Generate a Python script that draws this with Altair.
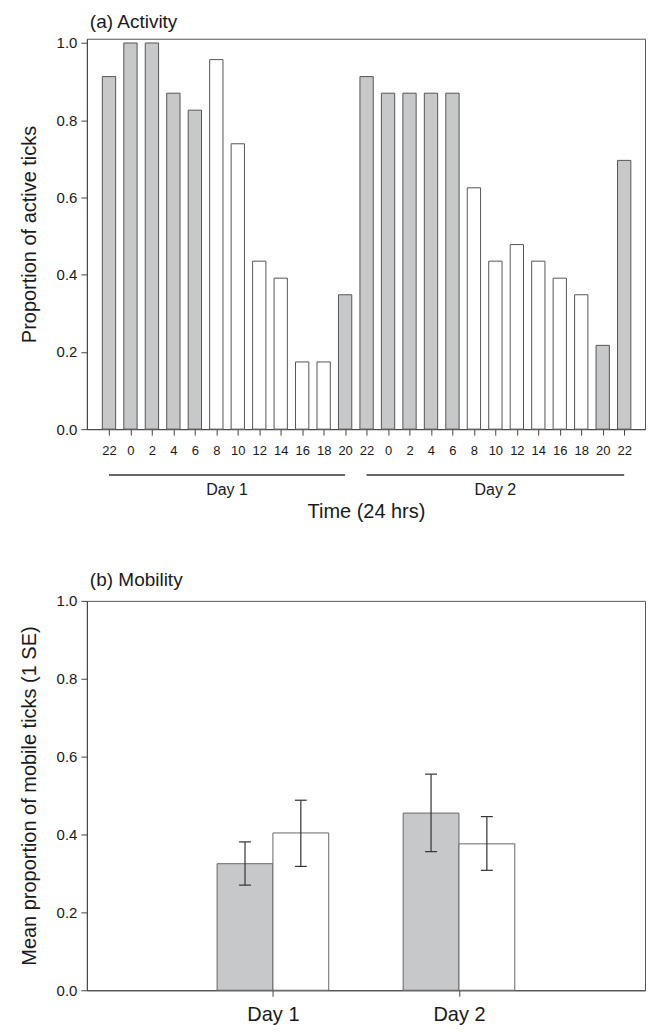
import altair as alt
import pandas as pd

# ---------------- data ----------------
hours = [22, 0, 2, 4, 6, 8, 10, 12, 14, 16, 18, 20,
         22, 0, 2, 4, 6, 8, 10, 12, 14, 16, 18, 20, 22]
activity = [0.913, 1.000, 1.000, 0.870, 0.826, 0.957, 0.739, 0.435, 0.391, 0.174, 0.174, 0.348,
            0.913, 0.870, 0.870, 0.870, 0.870, 0.625, 0.435, 0.478, 0.435, 0.391, 0.348, 0.217, 0.696]
period = ["dark"] * 5 + ["light"] * 6 + ["dark"] + ["dark"] * 5 + ["light"] * 6 + ["dark"] * 2

day_names = ["Day 1", "Day 2"]
day_start = [0, 12]
day_end = [11, 24]

mob_days = ["Day 1", "Day 2"]
mob_pos = [1, 2]
dark_mean = [0.325, 0.455]
dark_lo = [0.270, 0.356]
dark_hi = [0.381, 0.555]
light_mean = [0.404, 0.376]
light_lo = [0.318, 0.308]
light_hi = [0.488, 0.446]

# ---------------- style ----------------
FONT = "Liberation Sans"
GRAY = "#c7c8ca"
EDGE = "#555555"
TXT = "#1a1a1a"
W = 559
HA = 391
HB = 390
BAR_HALF = 0.31
MOB_BAR = 0.3
CAP_HALF = 0.032

fill_scale = alt.Scale(domain=["dark", "light"], range=[GRAY, "#ffffff"])

# ---------------- panel (a) ----------------
act = pd.DataFrame({"idx": list(range(len(hours))), "hour": hours,
                    "value": activity, "period": period})
act["x0"] = act["idx"] - BAR_HALF
act["x1"] = act["idx"] + BAR_HALF

label_expr = "[" + ",".join("'%s'" % h for h in hours) + "][datum.value]"
xscale_a = alt.Scale(domain=[-1.03, 24.97], nice=False, zero=False)
xaxis_a = alt.Axis(values=list(range(len(hours))), labelExpr=label_expr,
                   title="Time (24 hrs)", titlePadding=45, labelPadding=9,
                   labelFontSize=13, grid=False, tickSize=6)
yscale_a = alt.Scale(domain=[0, 1.011], nice=False)
yaxis_a = alt.Axis(values=[0, 0.2, 0.4, 0.6, 0.8, 1.0], format=".1f",
                   title="Proportion of active ticks", grid=False)

bars_a = alt.Chart(act).mark_bar(stroke=EDGE, strokeWidth=1).encode(
    x=alt.X("x0:Q", scale=xscale_a, axis=xaxis_a),
    x2="x1:Q",
    y=alt.Y("value:Q", scale=yscale_a, axis=yaxis_a),
    y2=alt.datum(0),
    fill=alt.Fill("period:N", scale=fill_scale, legend=None),
)

days = pd.DataFrame({"day": day_names, "start": day_start, "end": day_end})
days["mid"] = (days["start"] + days["end"]) / 2

lines_a = alt.Chart(days).mark_rule(color="#333333", strokeWidth=1.5, clip=False).encode(
    x=alt.X("start:Q", scale=xscale_a, axis=xaxis_a),
    x2="end:Q",
    y=alt.value(HA + 46),
)
text_a = alt.Chart(days).mark_text(font=FONT, fontSize=16, color=TXT,
                                   baseline="middle", clip=False).encode(
    x=alt.X("mid:Q", scale=xscale_a, axis=xaxis_a),
    y=alt.value(HA + 61),
    text="day:N",
)

panel_a = alt.layer(bars_a, lines_a, text_a).properties(
    width=W, height=HA,
    title=alt.Title("(a) Activity", anchor="start", frame="group", fontSize=19,
                    fontWeight="normal", font=FONT, color=TXT, dx=3, offset=4),
)

# ---------------- panel (b) ----------------
rows = []
for i in range(len(mob_days)):
    rows.append({"day": mob_days[i], "series": "dark", "mean": dark_mean[i],
                 "lo": dark_lo[i], "hi": dark_hi[i], "left": mob_pos[i] - MOB_BAR})
    rows.append({"day": mob_days[i], "series": "light", "mean": light_mean[i],
                 "lo": light_lo[i], "hi": light_hi[i], "left": mob_pos[i]})
mob = pd.DataFrame(rows)
mob["right"] = mob["left"] + MOB_BAR
mob["center"] = mob["left"] + MOB_BAR / 2
mob["cap_l"] = mob["center"] - CAP_HALF
mob["cap_r"] = mob["center"] + CAP_HALF

xscale_b = alt.Scale(domain=[0, 3], nice=False, zero=False)
mob_label_expr = "{" + ",".join("'%d':'%s'" % (p, d) for p, d in zip(mob_pos, mob_days)) + "}[datum.value]"
xaxis_b = alt.Axis(values=mob_pos, labelExpr=mob_label_expr, title=None,
                   labelFontSize=20, labelPadding=8, grid=False, tickSize=6)
yscale_b = alt.Scale(domain=[0, 1], nice=False)
yaxis_b = alt.Axis(values=[0, 0.2, 0.4, 0.6, 0.8, 1.0], format=".1f",
                   title="Mean proportion of mobile ticks (1 SE)", grid=False)

bars_b = alt.Chart(mob).mark_bar(stroke="#666666", strokeWidth=1).encode(
    x=alt.X("left:Q", scale=xscale_b, axis=xaxis_b),
    x2="right:Q",
    y=alt.Y("mean:Q", scale=yscale_b, axis=yaxis_b),
    y2=alt.datum(0),
    fill=alt.Fill("series:N", scale=fill_scale, legend=None),
)
err_b = alt.Chart(mob).mark_rule(color="#333333", strokeWidth=1.2).encode(
    x=alt.X("center:Q", scale=xscale_b, axis=xaxis_b),
    y=alt.Y("lo:Q", scale=yscale_b, axis=yaxis_b),
    y2="hi:Q",
)
cap_lo = alt.Chart(mob).mark_rule(color="#333333", strokeWidth=1.2).encode(
    x=alt.X("cap_l:Q", scale=xscale_b, axis=xaxis_b), x2="cap_r:Q",
    y=alt.Y("lo:Q", scale=yscale_b, axis=yaxis_b),
)
cap_hi = alt.Chart(mob).mark_rule(color="#333333", strokeWidth=1.2).encode(
    x=alt.X("cap_l:Q", scale=xscale_b, axis=xaxis_b), x2="cap_r:Q",
    y=alt.Y("hi:Q", scale=yscale_b, axis=yaxis_b),
)

panel_b = alt.layer(bars_b, err_b, cap_lo, cap_hi).properties(
    width=W, height=HB,
    title=alt.Title("(b) Mobility", anchor="start", frame="group", fontSize=19,
                    fontWeight="normal", font=FONT, color=TXT, dx=3, offset=4),
)

chart = alt.vconcat(panel_a, panel_b, spacing=47).properties(
    padding={"left": 10, "top": 3, "right": 0, "bottom": 0},
).configure_view(
    stroke=EDGE, strokeWidth=1,
).configure_axis(
    labelFont=FONT, titleFont=FONT, labelColor=TXT, titleColor=TXT,
    labelFontSize=15, titleFontSize=20, titleFontWeight="normal",
    domainColor="#444444", tickColor="#444444", tickSize=6,
    labelPadding=4, titlePadding=17,
).configure_concat(spacing=47)

chart.save("out.html", embed_options={"renderer": "svg", "actions": False})
